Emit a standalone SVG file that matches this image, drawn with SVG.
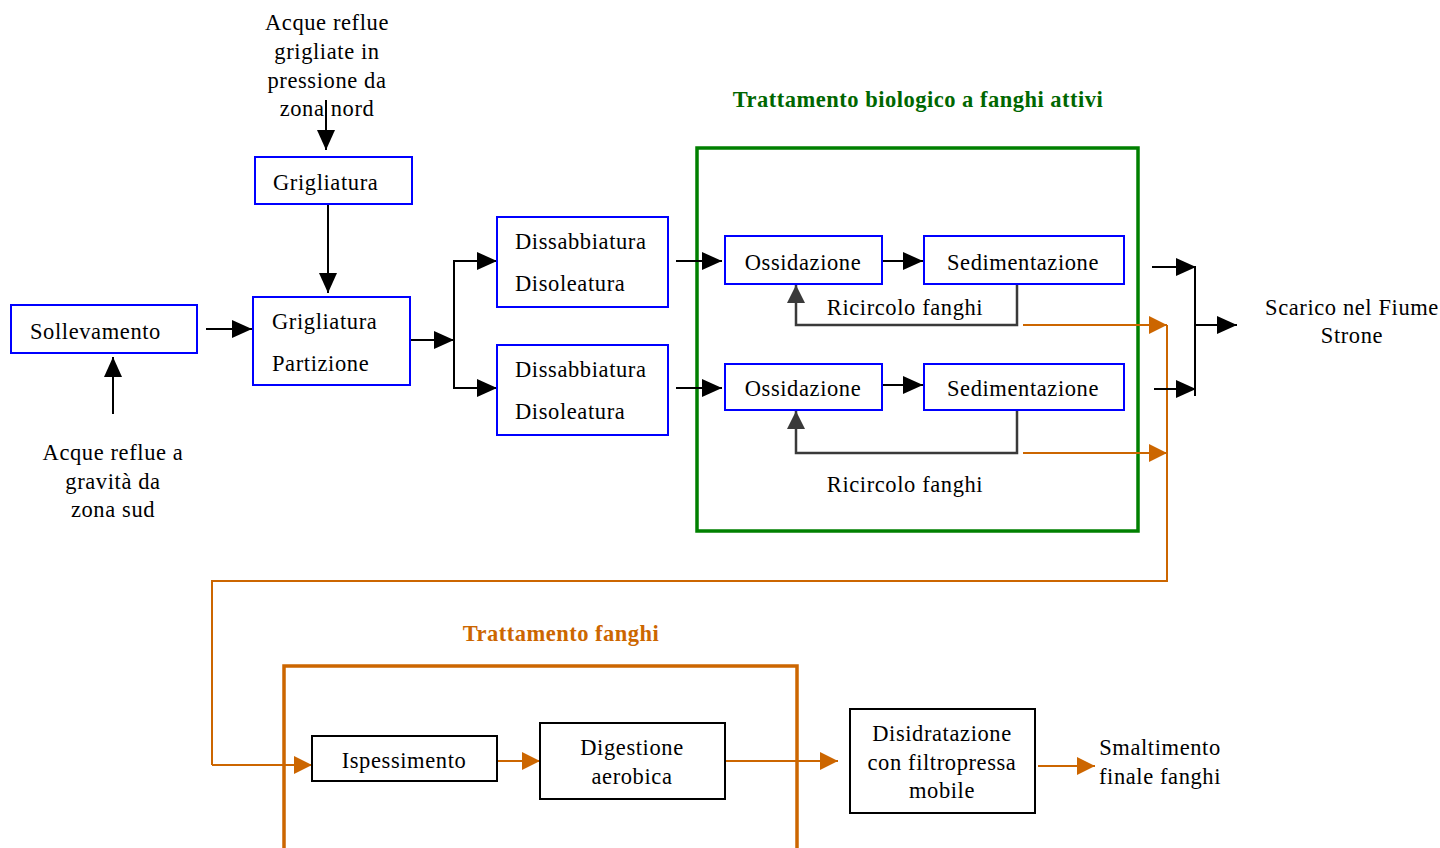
<svg xmlns="http://www.w3.org/2000/svg" width="1440" height="848" viewBox="0 0 1440 848">
<style>
text{font-family:"Liberation Serif","Times New Roman",serif;font-size:22.5px;fill:#000;letter-spacing:0.6px}
.m{text-anchor:middle}
.bx{fill:#fff;stroke:#0000ff;stroke-width:2}
.kx{fill:#fff;stroke:#000;stroke-width:2}
.ln{fill:none;stroke:#000;stroke-width:2}
.gr{fill:none;stroke:#3a3a3a;stroke-width:2.5}
.or{fill:none;stroke:#cc6600;stroke-width:2}
.ttl{font-weight:bold;letter-spacing:0.5px}
</style>
<defs>
<marker id="ab" markerWidth="20" markerHeight="18" refX="20" refY="9" orient="auto" markerUnits="userSpaceOnUse"><path d="M0,0 L20,9 L0,18 Z" fill="#000"/></marker>
<marker id="ag" markerWidth="18" markerHeight="18" refX="18" refY="9" orient="auto" markerUnits="userSpaceOnUse"><path d="M0,0 L18,9 L0,18 Z" fill="#3a3a3a"/></marker>
<marker id="ao" markerWidth="18" markerHeight="18" refX="18" refY="9" orient="auto" markerUnits="userSpaceOnUse"><path d="M0,0 L18,9 L0,18 Z" fill="#cc6600"/></marker>
</defs>
<rect width="1440" height="848" fill="#fff"/>

<g id="group-bio">
<rect x="697" y="148" width="441" height="383" fill="none" stroke="#008000" stroke-width="3.5"/>
<text x="918" y="107" class="m ttl" style="fill:#006600">Trattamento biologico a fanghi attivi</text>
</g>
<g id="group-fanghi">
<rect x="284" y="666" width="513" height="200" fill="none" stroke="#cc6600" stroke-width="3.5"/>
<text x="561" y="641" class="m ttl" style="fill:#cc6600">Trattamento fanghi</text>
</g>

<g id="connectors">
<line class="ln" x1="326" y1="100" x2="326" y2="150" marker-end="url(#ab)"/>
<line class="ln" x1="328" y1="204" x2="328" y2="293" marker-end="url(#ab)"/>
<line class="ln" x1="113" y1="414" x2="113" y2="357" marker-end="url(#ab)"/>
<line class="ln" x1="206" y1="329" x2="252" y2="329" marker-end="url(#ab)"/>
<line class="ln" x1="410" y1="340" x2="454" y2="340" marker-end="url(#ab)"/>
<polyline class="ln" points="497,261 454,261 454,388 497,388"/>
<line class="ln" x1="454" y1="261" x2="497" y2="261" marker-end="url(#ab)"/>
<line class="ln" x1="454" y1="388" x2="497" y2="388" marker-end="url(#ab)"/>
<line class="ln" x1="676" y1="261" x2="722" y2="261" marker-end="url(#ab)"/>
<line class="ln" x1="676" y1="388" x2="722" y2="388" marker-end="url(#ab)"/>
<line class="ln" x1="882" y1="261" x2="923" y2="261" marker-end="url(#ab)"/>
<line class="ln" x1="882" y1="385" x2="923" y2="385" marker-end="url(#ab)"/>
<polyline class="gr" points="1017,284 1017,325 796,325 796,285" marker-end="url(#ag)"/>
<polyline class="gr" points="1017,410 1017,453 796,453 796,411" marker-end="url(#ag)"/>
<line class="or" x1="1023" y1="325" x2="1167" y2="325" marker-end="url(#ao)"/>
<line class="or" x1="1023" y1="453" x2="1167" y2="453" marker-end="url(#ao)"/>
<polyline class="or" points="1167,325 1167,581 212,581 212,765"/>
<line class="or" x1="212" y1="765" x2="312" y2="765" marker-end="url(#ao)"/>
<line class="or" x1="497" y1="761" x2="540" y2="761" marker-end="url(#ao)"/>
<line class="or" x1="725" y1="761" x2="838" y2="761" marker-end="url(#ao)"/>
<line class="or" x1="1038" y1="766" x2="1095" y2="766" marker-end="url(#ao)"/>
<line class="ln" x1="1152" y1="267" x2="1196" y2="267" marker-end="url(#ab)"/>
<line class="ln" x1="1154" y1="389" x2="1196" y2="389" marker-end="url(#ab)"/>
<line class="ln" x1="1195" y1="266" x2="1195" y2="396"/>
<line class="ln" x1="1195" y1="325" x2="1237" y2="325" marker-end="url(#ab)"/>
</g>

<g id="src-nord">
<text x="327" y="30" class="m">Acque reflue</text>
<text x="327" y="59" class="m">grigliate in</text>
<text x="327" y="88" class="m">pressione da</text>
<text x="327" y="116" class="m">zona nord</text>
</g>
<g id="src-sud">
<text x="113" y="460" class="m">Acque reflue a</text>
<text x="113" y="489" class="m">gravità da</text>
<text x="113" y="517" class="m">zona sud</text>
</g>
<g id="grigliatura">
<rect class="bx" x="255" y="157" width="157" height="47"/>
<text x="273" y="190">Grigliatura</text>
</g>
<g id="sollevamento">
<rect class="bx" x="11" y="305" width="186" height="48"/>
<text x="30" y="339">Sollevamento</text>
</g>
<g id="grigliatura-partizione">
<rect class="bx" x="253" y="297" width="157" height="88"/>
<text x="272" y="329">Grigliatura</text>
<text x="272" y="371">Partizione</text>
</g>
<g id="dissabbiatura-1">
<rect class="bx" x="497" y="217" width="171" height="90"/>
<text x="515" y="249">Dissabbiatura</text>
<text x="515" y="291">Disoleatura</text>
</g>
<g id="dissabbiatura-2">
<rect class="bx" x="497" y="345" width="171" height="90"/>
<text x="515" y="377">Dissabbiatura</text>
<text x="515" y="419">Disoleatura</text>
</g>
<g id="ossidazione-1">
<rect class="bx" x="725" y="236" width="157" height="48"/>
<text x="803" y="270" class="m">Ossidazione</text>
</g>
<g id="sedimentazione-1">
<rect class="bx" x="924" y="236" width="200" height="48"/>
<text x="1023" y="270" class="m">Sedimentazione</text>
</g>
<g id="ossidazione-2">
<rect class="bx" x="725" y="364" width="157" height="46"/>
<text x="803" y="396" class="m">Ossidazione</text>
</g>
<g id="sedimentazione-2">
<rect class="bx" x="924" y="364" width="200" height="46"/>
<text x="1023" y="396" class="m">Sedimentazione</text>
</g>
<g id="ricircolo-labels">
<text x="905" y="315" class="m">Ricircolo fanghi</text>
<text x="905" y="492" class="m">Ricircolo fanghi</text>
</g>
<g id="scarico">
<text x="1352" y="315" class="m">Scarico nel Fiume</text>
<text x="1352" y="343" class="m">Strone</text>
</g>
<g id="ispessimento">
<rect class="kx" x="312" y="736" width="185" height="45"/>
<text x="404" y="768" class="m">Ispessimento</text>
</g>
<g id="digestione">
<rect class="kx" x="540" y="723" width="185" height="76"/>
<text x="632" y="755" class="m">Digestione</text>
<text x="632" y="784" class="m">aerobica</text>
</g>
<g id="disidratazione">
<rect class="kx" x="850" y="709" width="185" height="104"/>
<text x="942" y="741" class="m">Disidratazione</text>
<text x="942" y="770" class="m">con filtropressa</text>
<text x="942" y="798" class="m">mobile</text>
</g>
<g id="smaltimento">
<text x="1160" y="755" class="m">Smaltimento</text>
<text x="1160" y="784" class="m">finale fanghi</text>
</g>
</svg>
